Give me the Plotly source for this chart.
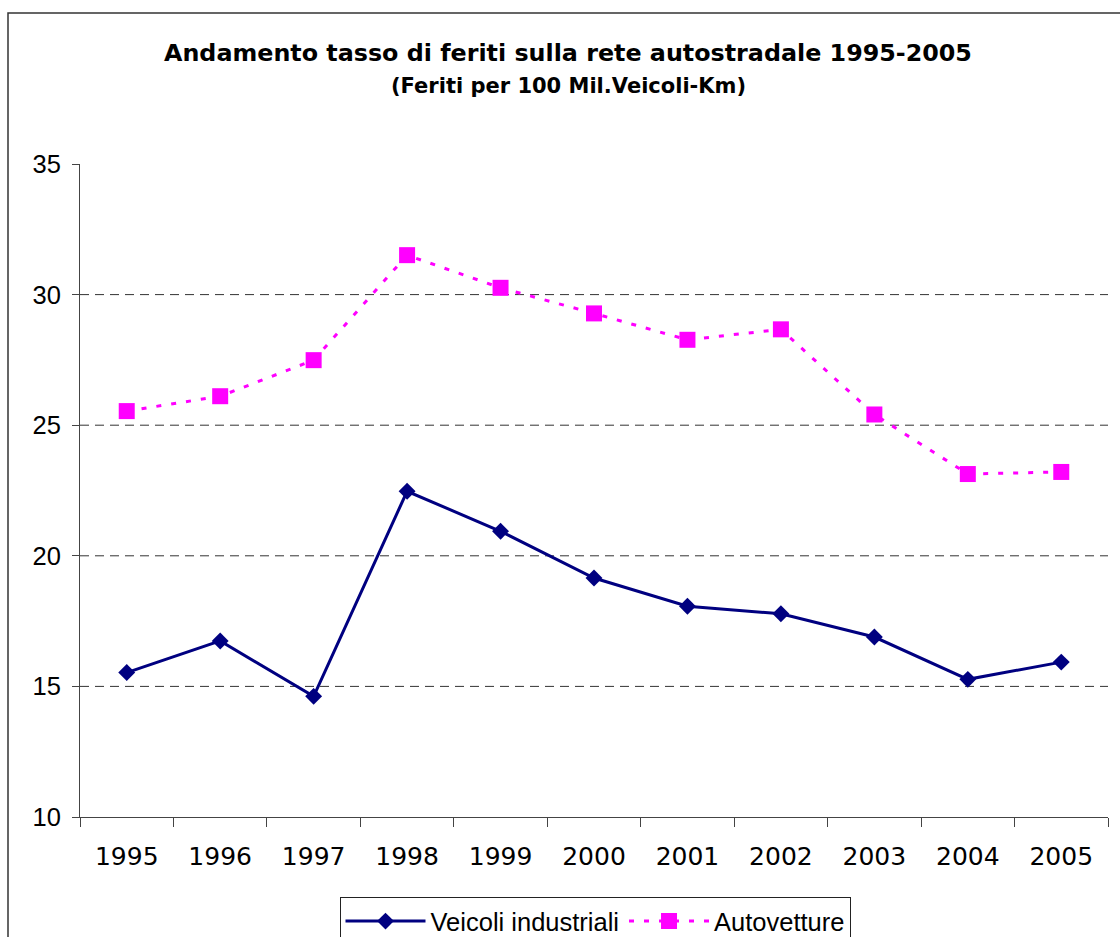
import plotly.graph_objects as go

years = ["1995", "1996", "1997", "1998", "1999", "2000", "2001", "2002", "2003", "2004", "2005"]
veicoli_industriali = [15.53, 16.74, 14.62, 22.47, 20.94, 19.15, 18.07, 17.78, 16.89, 15.27, 15.93]
autovetture = [25.54, 26.11, 27.49, 31.51, 30.26, 29.28, 28.27, 28.67, 25.41, 23.13, 23.21]
y_ticks = [10, 15, 20, 25, 30, 35]
grid_values = [15, 20, 25, 30]

title_text = "Andamento tasso di feriti sulla rete autostradale 1995-2005"
subtitle_text = "(Feriti per 100 Mil.Veicoli-Km)"

W, H = 1120, 937
L, R, T, B = 80, 12, 164, 120
pw, ph = W - L - R, H - T - B

def px_x(x):
    return (x - L) / pw

def px_y(y):
    return (H - B - y) / ph

fig = go.Figure()
fig.add_trace(go.Scatter(
    x=years, y=veicoli_industriali, name="Veicoli industriali",
    mode="lines+markers",
    line=dict(color="#000080", width=3),
    marker=dict(symbol="diamond", size=13, color="#000080"),
))
fig.add_trace(go.Scatter(
    x=years, y=autovetture, name="Autovetture",
    mode="lines+markers",
    line=dict(color="#FF00FF", width=3, dash="5px,10px"),
    marker=dict(symbol="square", size=16, color="#FF00FF"),
))

for v in grid_values:
    fig.add_shape(type="line", xref="paper", yref="y", x0=0, x1=1, y0=v, y1=v,
                  line=dict(color="#333333", width=1, dash="9px,6px"), layer="below")

# outer chart border (only top and left edges visible)
fig.add_shape(type="rect", xref="paper", yref="paper",
              x0=px_x(8), x1=px_x(1300), y0=px_y(1100), y1=px_y(13),
              line=dict(color="#333333", width=1.5), fillcolor="rgba(0,0,0,0)")

fig.add_annotation(text="<b>" + title_text + "</b>", xref="paper", yref="paper",
                   x=px_x(568), y=px_y(53), showarrow=False, xanchor="center", yanchor="middle",
                   font=dict(family="DejaVu Sans", size=23.8, color="black"))
fig.add_annotation(text="<b>" + subtitle_text + "</b>", xref="paper", yref="paper",
                   x=px_x(568), y=px_y(86), showarrow=False, xanchor="center", yanchor="middle",
                   font=dict(family="DejaVu Sans", size=21, color="black"))

fig.update_layout(
    width=W, height=H,
    margin=dict(l=L, r=R, t=T, b=B, pad=0, autoexpand=False),
    paper_bgcolor="white", plot_bgcolor="white",
    showlegend=True,
    legend=dict(orientation="h", xref="container", yref="container",
                x=595 / W, xanchor="center", y=1 - 897 / H, yanchor="top",
                bordercolor="#222222", borderwidth=1, bgcolor="white",
                font=dict(family="Liberation Sans", size=25.5, color="black"),
                itemwidth=80, tracegroupgap=0),
    xaxis=dict(type="category", range=[-0.5, 10.5], tickson="boundaries", ticks="outside", ticklen=9,
               tickcolor="#444444", showline=True, linecolor="#444444", linewidth=1,
               showgrid=False, zeroline=False, automargin=False, ticklabelstandoff=17,
               tickfont=dict(family="DejaVu Sans", size=25, color="black")),
    yaxis=dict(range=[10, 35], tickvals=y_ticks, ticks="outside", ticklen=7,
               tickcolor="#444444", showline=True, linecolor="#444444", linewidth=1,
               showgrid=False, zeroline=False, automargin=False, ticklabelstandoff=6,
               tickfont=dict(family="Liberation Sans", size=25.5, color="black")),
)

fig.write_html("out.html", config={"displayModeBar": False},
               post_script="document.body.style.margin='0';")
